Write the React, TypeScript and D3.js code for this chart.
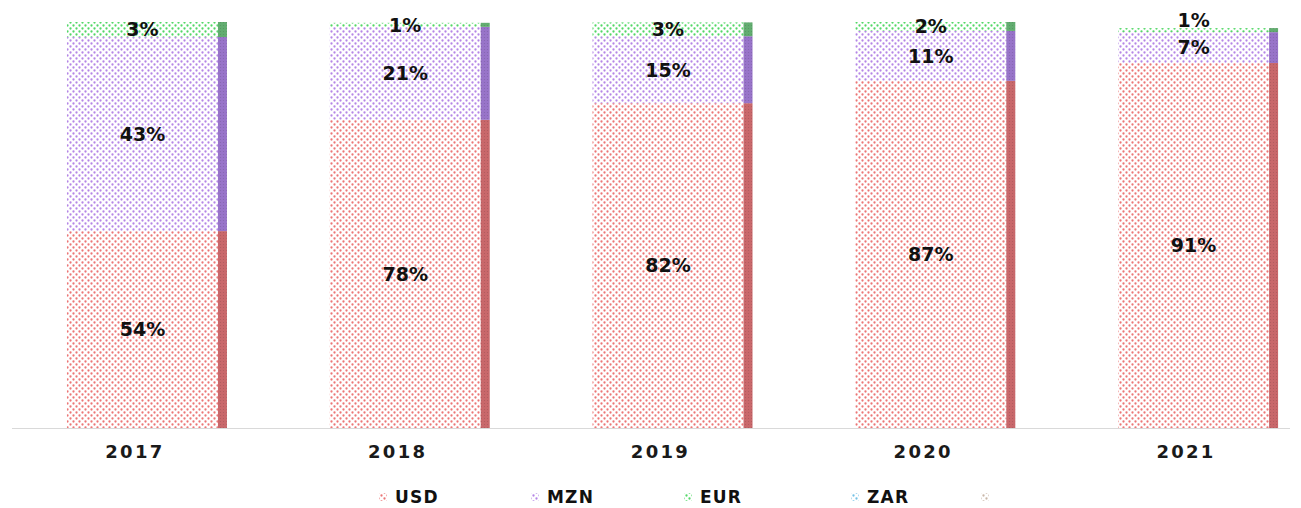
import React, { useEffect } from "react";
import * as d3 from "d3";

const years = ["2017", "2018", "2019", "2020", "2021"];
const usd = [48.5, 75.9, 80.0, 85.5, 89.9];
const mzn = [47.8, 22.9, 16.5, 12.3, 7.6];
const eur = [3.7, 1.0, 3.4, 2.2, 1.0];
const usdLabels = ["54%", "78%", "82%", "87%", "91%"];
const mznLabels = ["43%", "21%", "15%", "11%", "7%"];
const eurLabels = ["3%", "1%", "3%", "2%", "1%"];
const legendNames = ["USD", "MZN", "EUR", "ZAR", ""];

const W = 1301;
const H = 508;

const seriesStyle = [
  { id: "usd", dot: "#ec7676", strip: "#c9686b" },
  { id: "mzn", dot: "#b586e6", strip: "#9874c9" },
  { id: "eur", dot: "#52d866", strip: "#62ad70" },
  { id: "zar", dot: "#74c2e6", strip: "#5fa8c8" },
  { id: "oth", dot: "#c9b7a8", strip: "#a89080" },
];

export default function App() {
  useEffect(() => {
    document.body.style.margin = "0";
  }, []);

  const x = d3
    .scaleBand<string>()
    .domain(years)
    .range([12, 1333])
    .paddingInner(0.391)
    .paddingOuter(0.209);
  const y = d3.scaleLinear().domain([0, 100]).range([428, 22]);
  const stripW = 9;
  const bw = x.bandwidth();

  const series = [
    { vals: usd, labels: usdLabels },
    { vals: mzn, labels: mznLabels },
    { vals: eur, labels: eurLabels },
  ];
  const rows = years.map((yr, i) => ({ year: yr, usd: usd[i], mzn: mzn[i], eur: eur[i] }));
  const stack = d3.stack<any>().keys(["usd", "mzn", "eur"])(rows);

  // label y positions with simple collision avoidance upward
  const labelY: number[][] = stack.map((layer) => layer.map((d) => (y(d[0]) + y(d[1])) / 2));
  for (let si = 1; si < labelY.length; si++) {
    for (let i = 0; i < years.length; i++) {
      labelY[si][i] = Math.min(labelY[si][i], labelY[si - 1][i] - 27);
    }
  }

  const legendX = [383, 535, 688, 855, 985];
  const font = "'DejaVu Sans', sans-serif";

  return (
    <svg width={W} height={H} style={{ display: "block", background: "#fff" }}>
      <defs>
        {seriesStyle.map((s) => (
          <pattern key={s.id} id={"p-" + s.id} width={6} height={6} patternUnits="userSpaceOnUse">
            <rect width={6} height={6} fill="#fff" />
            <circle cx={1.5} cy={1.5} r={1.15} fill={s.dot} />
            <circle cx={4.5} cy={4.5} r={1.15} fill={s.dot} />
          </pattern>
        ))}
        {seriesStyle.map((s) => (
          <pattern key={s.id + "s"} id={"s-" + s.id} width={3} height={3} patternUnits="userSpaceOnUse">
            <rect width={3} height={3} fill={s.strip} />
            <circle cx={1.5} cy={1.5} r={0.6} fill={d3.color(s.strip)!.darker(0.4).toString()} />
          </pattern>
        ))}
      </defs>

      {stack.map((layer, si) =>
        layer.map((d, i) => {
          const x0 = x(years[i])!;
          const top = y(d[1]);
          const h = y(d[0]) - y(d[1]);
          return (
            <g key={si + "-" + i}>
              <rect x={x0} y={top} width={bw - stripW} height={h} fill={`url(#p-${seriesStyle[si].id})`} />
              <rect x={x0 + bw - stripW} y={top} width={stripW} height={h} fill={`url(#s-${seriesStyle[si].id})`} />
            </g>
          );
        })
      )}

      <line x1={12} x2={1290} y1={428.5} y2={428.5} stroke="#d9d9d9" strokeWidth={1.2} />

      {stack.map((layer, si) =>
        layer.map((d, i) => {
          const cx = x(years[i])! + (bw - stripW) / 2;
          return (
            <text
              key={"l" + si + "-" + i}
              x={cx}
              y={labelY[si][i]}
              dy="0.36em"
              textAnchor="middle"
              fontFamily={font}
              fontWeight="bold"
              fontSize={19}
              fill="#111"
            >
              {series[si].labels[i]}
            </text>
          );
        })
      )}

      {years.map((yr) => (
        <text
          key={yr}
          x={x(yr)! + 68}
          y={458}
          textAnchor="middle"
          fontFamily={font}
          fontWeight="bold"
          fontSize={18}
          letterSpacing={2.3}
          fill="#1a1a1a"
        >
          {yr}
        </text>
      ))}

      {legendNames.map((n, i) => (
        <g key={"lg" + i} transform={`translate(${legendX[i]},497)`}>
          <rect x={-4} y={-4} width={8} height={8} fill={`url(#p-${seriesStyle[i].id})`} />
          {n && (
            <text x={12} y={6} fontFamily={font} fontWeight="bold" fontSize={17} letterSpacing={1.2} fill="#111">
              {n}
            </text>
          )}
        </g>
      ))}
    </svg>
  );
}
